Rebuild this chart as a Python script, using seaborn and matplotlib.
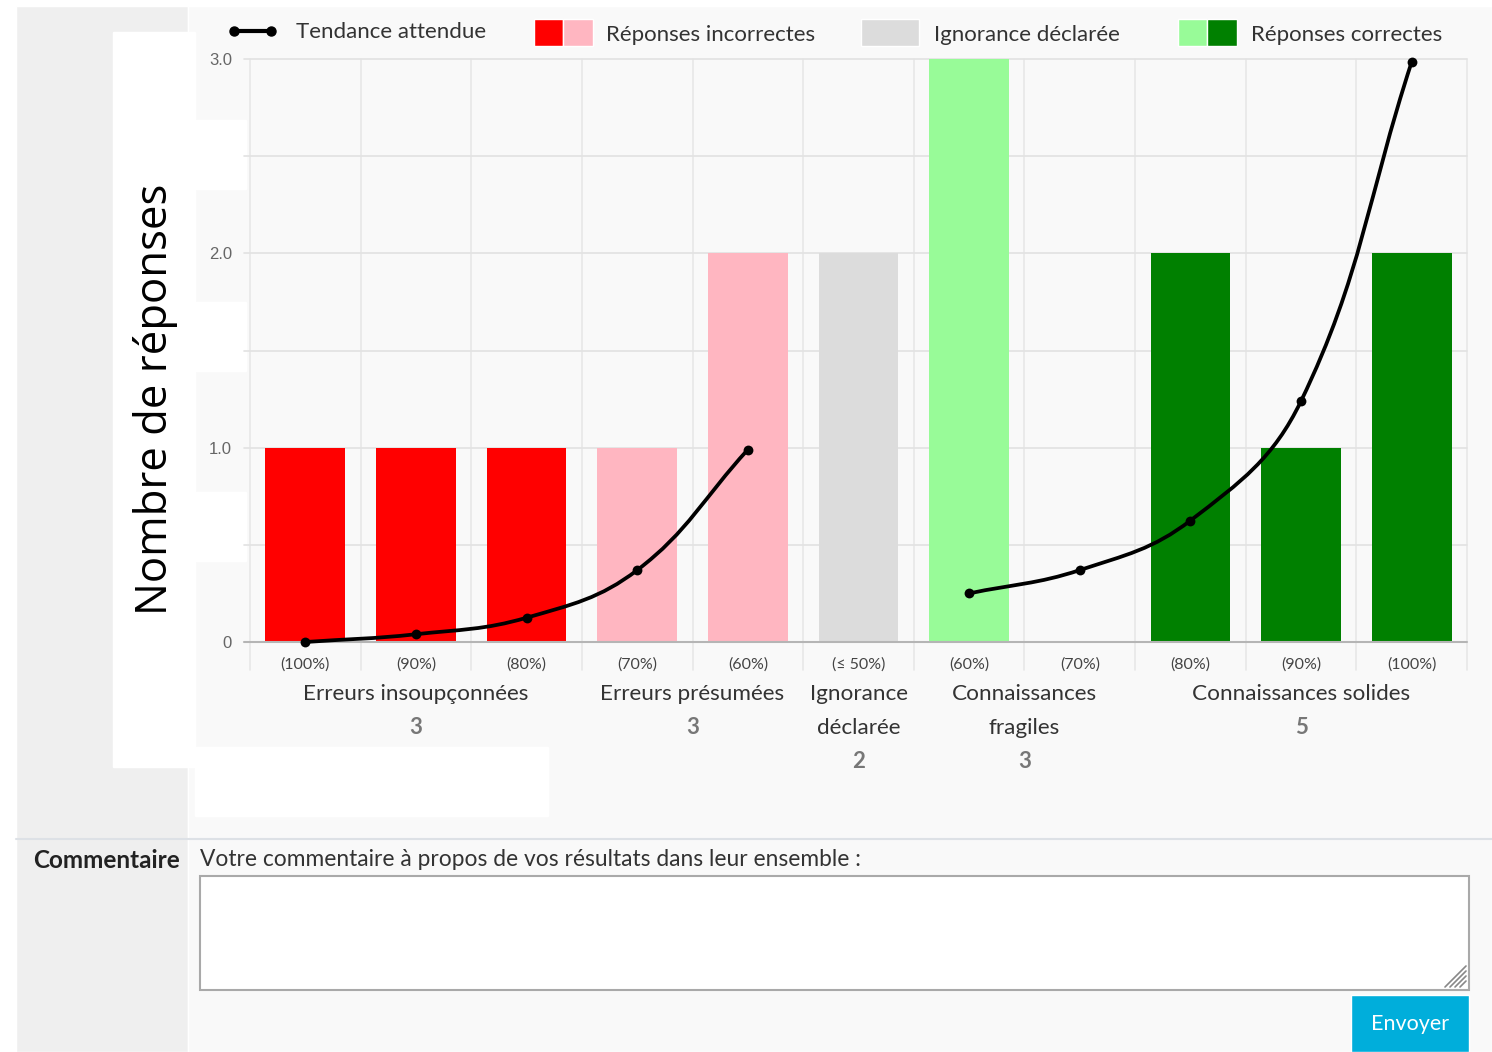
import numpy as np
import matplotlib
matplotlib.use("Agg")
import matplotlib.pyplot as plt
import seaborn as sns
import pandas as pd
from matplotlib.patches import Rectangle, PathPatch
from matplotlib.path import Path
from matplotlib.lines import Line2D
import matplotlib.transforms as mtrans

# ---------------- data ----------------
bar_keys = ["b0", "b1", "b2", "b3", "b4", "b5", "b6", "b7", "b8", "b9", "b10"]
tick_labels = ["(100%)", "(90%)", "(80%)", "(70%)", "(60%)", "(≤ 50%)",
               "(60%)", "(70%)", "(80%)", "(90%)", "(100%)"]
counts = [1, 1, 1, 1, 2, 2, 3, 0, 2, 1, 2]
bar_colors = ["#ff0000", "#ff0000", "#ff0000", "#ffb6c1", "#ffb6c1", "#dcdcdc",
              "#98fb98", "#98fb98", "#008000", "#008000", "#008000"]

trend_left_x = [0, 1, 2, 3, 4]
trend_left_y = [0.0, 0.04, 0.125, 0.37, 0.99]
trend_right_x = [6, 7, 8, 9, 10]
trend_right_y = [0.25, 0.37, 0.625, 1.24, 2.985]

group_names = [["Erreurs insoupçonnées"], ["Erreurs présumées"],
               ["Ignorance", "déclarée"], ["Connaissances", "fragiles"],
               ["Connaissances solides"]]
group_centers = [1, 3.5, 5, 6.5, 9]
group_counts = ["3", "3", "2", "3", "5"]

legend_labels = ["Tendance attendue", "Réponses incorrectes",
                 "Ignorance déclarée", "Réponses correctes"]

y_label = "Nombre de réponses"

# ---------------- figure ----------------
W, H = 1492, 1052
sns.set_style("white")
plt.rcParams["font.family"] = ["Lato", "DejaVu Sans"]
fig = plt.figure(figsize=(W / 100, H / 100), dpi=100)
fig.patch.set_facecolor("white")


def fx(x):
    return x / W


def fy(y):
    return 1 - y / H


def frect(x0, y0, x1, y1, color, z=-5, **kw):
    r = Rectangle((fx(x0), fy(y1)), fx(x1) - fx(x0), fy(y0) - fy(y1),
                  transform=fig.transFigure, facecolor=color, zorder=z, **kw)
    fig.add_artist(r)
    return r


# page background
frect(16, 6, 188, H, "#efefef")
frect(188, 6, W, H, "#f9f9f9")
# white patches of the screenshot
frect(113, 32, 195, 767, "#ffffff", z=-4)
for (a, b) in [(120, 189), (302, 371), (492, 561)]:
    frect(195, a, 246, b, "#ffffff", z=-4)
frect(195, 747, 548, 816, "#ffffff", z=-4)
# separator
fig.add_artist(Line2D([fx(16), 1], [fy(839), fy(839)], transform=fig.transFigure,
                      color="#dde1e6", lw=1.5, zorder=-3))

# ---------------- axes ----------------
L, R, T, B = 250, 1467, 59, 642
ax = fig.add_axes([fx(L), fy(B), fx(R) - fx(L), fy(T) - fy(B)])
ax.set_facecolor("none")

df = pd.DataFrame({"key": bar_keys, "count": counts})
sns.barplot(data=df, x="key", y="count", hue="key", order=bar_keys,
            palette=dict(zip(bar_keys, bar_colors)), legend=False,
            width=0.72, saturation=1, linewidth=0, ax=ax, zorder=2)
ax.set_xlim(-0.5, 10.5)
ax.set_ylim(0, 3)

for s in ax.spines.values():
    s.set_visible(False)

# grid lines
ymin_ext = -(670 - 642) / ((B - T) / 3)
for xb in np.arange(-0.5, 10.6, 1.0):
    ax.plot([xb, xb], [ymin_ext, 3], color="#e8e8e8", lw=1.2, zorder=0, clip_on=False)
xl_ext = -0.5 - 6 / ((R - L) / 11)
for yv in np.arange(0.5, 3.01, 0.5):
    ax.plot([xl_ext, 10.5], [yv, yv], color="#e2e2e2", lw=1.2, zorder=0, clip_on=False)
ax.plot([xl_ext, 10.5], [0, 0], color="#b5b5b5", lw=1.5, zorder=3, clip_on=False)

ax.set_yticks([0, 1, 2, 3])
ax.set_yticklabels(["0", "1.0", "2.0", "3.0"], family=["Liberation Sans"],
                   fontsize=12, color="#666666")
ax.tick_params(axis="y", length=0, pad=13)
ax.set_xticks(range(11))
ax.set_xticklabels(tick_labels, fontsize=11.5, color="#444444")
ax.tick_params(axis="x", length=0, pad=11)
ax.set_xlabel("")
ax.set_ylabel("")


# trend curves (Chart.js-style cubic spline rendering through the points)
sx, sy = (R - L) / 11, (B - T) / 3


def spline_path(xs, ys, t=0.4):
    P = np.column_stack([np.asarray(xs, float) * sx, np.asarray(ys, float) * sy])
    n = len(P)
    cprev, cnext = [], []
    for i in range(n):
        p0 = P[i - 1] if i > 0 else P[i]
        p1 = P[i]
        p2 = P[i + 1] if i < n - 1 else P[i]
        d01 = np.hypot(*(p1 - p0))
        d12 = np.hypot(*(p2 - p1))
        tot = d01 + d12
        s01 = d01 / tot if tot else 0
        s12 = d12 / tot if tot else 0
        cprev.append(p1 - t * s01 * (p2 - p0))
        cnext.append(p1 + t * s12 * (p2 - p0))
    verts = [P[0]]
    codes = [Path.MOVETO]
    for i in range(1, n):
        verts += [cnext[i - 1], cprev[i], P[i]]
        codes += [Path.CURVE4] * 3
    verts = np.array(verts) / np.array([sx, sy])
    return Path(verts, codes)


for xs, ys in [(trend_left_x, trend_left_y), (trend_right_x, trend_right_y)]:
    ax.add_patch(PathPatch(spline_path(xs, ys), fill=False, edgecolor="black",
                           lw=2.7, zorder=4, clip_on=False))
    sns.scatterplot(x=xs, y=ys, color="black", s=50, edgecolor="black",
                    linewidth=0, zorder=5, ax=ax, clip_on=False)

# group labels below the axis
bt = mtrans.blended_transform_factory(ax.transData, fig.transFigure)
for c, lines, n in zip(group_centers, group_names, group_counts):
    ys = [694, 728, 762]
    for k, line in enumerate(lines):
        fig.text(c, fy(ys[k]), line, transform=bt, ha="center", va="center",
                 fontsize=16.2, color="#333333")
    fig.text(c, fy(ys[len(lines)]), n, transform=bt, ha="center", va="center",
             fontsize=16, color="#777777", fontweight="bold")

# y label
fig.text(fx(156), fy(399), y_label, rotation=90, ha="center", va="center",
         fontsize=31.5, color="black", family=["Open Sans", "DejaVu Sans"])

# ---------------- legend ----------------
fig.add_artist(Line2D([fx(234), fx(271)], [fy(31), fy(31)], transform=fig.transFigure,
                      color="black", lw=3, marker="o", markersize=6.5, zorder=5))
frect(534, 19, 563, 46, "#ff0000", z=5)
frect(563, 19, 593, 46, "#ffb6c1", z=5)
frect(861, 19, 919, 46, "#dcdcdc", z=5)
frect(1178, 19, 1207, 46, "#98fb98", z=5)
frect(1207, 19, 1237, 46, "#008000", z=5)
for xt, yt, lab in zip([296, 606, 934, 1251], [32, 35, 35, 35], legend_labels):
    fig.text(fx(xt), fy(yt), lab, ha="left", va="center", fontsize=16, color="#333333")

# ---------------- comment section ----------------
fig.text(fx(33), fy(860), "Commentaire", ha="left", va="center", fontsize=17.5,
         fontweight="bold", color="#222222")
fig.text(fx(200), fy(860), "Votre commentaire à propos de vos résultats dans leur ensemble :",
         ha="left", va="center", fontsize=16.4, color="#333333")
frect(200, 876, 1469, 990, "#ffffff", z=1, edgecolor="#a9a9a9", linewidth=1.5)
for k in [6, 11, 16, 21]:
    fig.add_artist(Line2D([fx(1466 - k), fx(1466)], [fy(987), fy(987 - k)],
                          transform=fig.transFigure, color="#888888", lw=1.2, zorder=2))
frect(1351, 995, 1469, H, "#00aedb", z=1)
fig.text(fx(1410), fy(1024), "Envoyer", ha="center", va="center", fontsize=15.5,
         color="white")

fig.savefig("out.png", dpi=100)
